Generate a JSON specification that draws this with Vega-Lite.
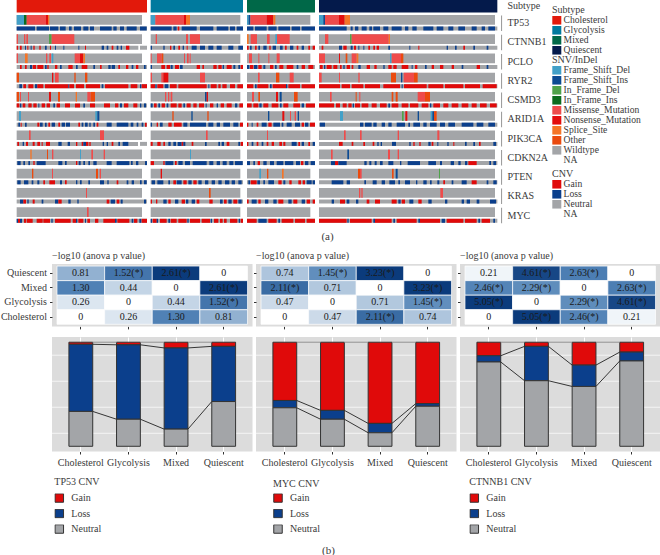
{"$schema":"https://vega.github.io/schema/vega-lite/v6.json","padding":0,"background":"white","bounds":"flush","columns":3,"spacing":{"row":10,"column":3},
"config":{"font":"Liberation Serif","view":{"stroke":null},"axis":{"labelFont":"Liberation Serif","labelFontSize":10,"labelColor":"#3a3a3a","tickColor":"#333333","tickSize":2.5,"domain":false,"title":null,"labelAngle":0},"legend":{"labelFont":"Liberation Serif","titleFont":"Liberation Serif","labelColor":"#3a3a3a","titleColor":"#3a3a3a","titleFontWeight":"normal","titleFontSize":10,"labelFontSize":10,"symbolType":"square","orient":"none"},"title":{"font":"Liberation Serif","fontSize":10,"fontWeight":"normal","color":"#3a3a3a","anchor":"start","frame":"group","offset":3}},
"resolve":{"scale":{"color":"independent"},"legend":{"color":"independent"}},
"datasets":{
"subtypes":[{"track":"Subtype","a":50,"b":441,"v":"Cholesterol"},{"track":"Subtype","a":452,"b":729,"v":"Glycolysis"},{"track":"Subtype","a":741,"b":945,"v":"Mixed"},{"track":"Subtype","a":957,"b":1492,"v":"Quiescent"}],
"genes":[{"gene":"TP53"},{"gene":"CTNNB1"},{"gene":"PCLO"},{"gene":"RYR2"},{"gene":"CSMD3"},{"gene":"ARID1A"},{"gene":"PIK3CA"},{"gene":"CDKN2A"},{"gene":"PTEN"},{"gene":"KRAS"},{"gene":"MYC"}],
"snv":[
{"gene":"TP53","a":50,"b":426,"v":"Wildtype"},{"gene":"TP53","a":452,"b":721,"v":"Wildtype"},{"gene":"TP53","a":741,"b":931,"v":"Wildtype"},{"gene":"TP53","a":957,"b":1485,"v":"Wildtype"},
{"gene":"CTNNB1","a":50,"b":426,"v":"Wildtype"},{"gene":"CTNNB1","a":452,"b":721,"v":"Wildtype"},{"gene":"CTNNB1","a":741,"b":931,"v":"Wildtype"},{"gene":"CTNNB1","a":957,"b":1485,"v":"Wildtype"},
{"gene":"PCLO","a":50,"b":426,"v":"Wildtype"},{"gene":"PCLO","a":452,"b":721,"v":"Wildtype"},{"gene":"PCLO","a":741,"b":931,"v":"Wildtype"},{"gene":"PCLO","a":957,"b":1485,"v":"Wildtype"},
{"gene":"RYR2","a":50,"b":426,"v":"Wildtype"},{"gene":"RYR2","a":452,"b":721,"v":"Wildtype"},{"gene":"RYR2","a":741,"b":931,"v":"Wildtype"},{"gene":"RYR2","a":957,"b":1485,"v":"Wildtype"},
{"gene":"CSMD3","a":50,"b":426,"v":"Wildtype"},{"gene":"CSMD3","a":452,"b":721,"v":"Wildtype"},{"gene":"CSMD3","a":741,"b":931,"v":"Wildtype"},{"gene":"CSMD3","a":957,"b":1485,"v":"Wildtype"},
{"gene":"ARID1A","a":50,"b":426,"v":"Wildtype"},{"gene":"ARID1A","a":452,"b":721,"v":"Wildtype"},{"gene":"ARID1A","a":741,"b":931,"v":"Wildtype"},{"gene":"ARID1A","a":957,"b":1485,"v":"Wildtype"},
{"gene":"PIK3CA","a":50,"b":426,"v":"Wildtype"},{"gene":"PIK3CA","a":452,"b":721,"v":"Wildtype"},{"gene":"PIK3CA","a":741,"b":931,"v":"Wildtype"},{"gene":"PIK3CA","a":957,"b":1485,"v":"Wildtype"},
{"gene":"CDKN2A","a":50,"b":426,"v":"Wildtype"},{"gene":"CDKN2A","a":452,"b":721,"v":"Wildtype"},{"gene":"CDKN2A","a":741,"b":931,"v":"Wildtype"},{"gene":"CDKN2A","a":957,"b":1485,"v":"Wildtype"},
{"gene":"PTEN","a":50,"b":426,"v":"Wildtype"},{"gene":"PTEN","a":452,"b":721,"v":"Wildtype"},{"gene":"PTEN","a":741,"b":931,"v":"Wildtype"},{"gene":"PTEN","a":957,"b":1485,"v":"Wildtype"},
{"gene":"KRAS","a":50,"b":426,"v":"Wildtype"},{"gene":"KRAS","a":452,"b":721,"v":"Wildtype"},{"gene":"KRAS","a":741,"b":931,"v":"Wildtype"},{"gene":"KRAS","a":957,"b":1485,"v":"Wildtype"},
{"gene":"MYC","a":50,"b":426,"v":"Wildtype"},{"gene":"MYC","a":452,"b":721,"v":"Wildtype"},{"gene":"MYC","a":741,"b":931,"v":"Wildtype"},{"gene":"MYC","a":957,"b":1485,"v":"Wildtype"},
{"gene":"TP53","a":50,"b":72,"v":"Frame_Shift_Del"},{"gene":"TP53","a":72,"b":80,"v":"In_Frame_Ins"},{"gene":"TP53","a":80,"b":138,"v":"Missense_Mutation"},{"gene":"TP53","a":138,"b":144,"v":"Nonsense_Mutation"},{"gene":"TP53","a":144,"b":148,"v":"Splice_Site"},{"gene":"TP53","a":452,"b":466,"v":"Frame_Shift_Del"},{"gene":"TP53","a":466,"b":552,"v":"Missense_Mutation"},{"gene":"TP53","a":552,"b":558,"v":"Nonsense_Mutation"},{"gene":"TP53","a":558,"b":570,"v":"Splice_Site"},{"gene":"TP53","a":741,"b":746,"v":"Frame_Shift_Del"},{"gene":"TP53","a":746,"b":751,"v":"Frame_Shift_Ins"},{"gene":"TP53","a":751,"b":800,"v":"Missense_Mutation"},{"gene":"TP53","a":800,"b":820,"v":"Nonsense_Mutation"},{"gene":"TP53","a":820,"b":826,"v":"Splice_Site"},{"gene":"TP53","a":957,"b":970,"v":"Frame_Shift_Del"},{"gene":"TP53","a":970,"b":975,"v":"Frame_Shift_Ins"},{"gene":"TP53","a":975,"b":1017,"v":"Missense_Mutation"},{"gene":"TP53","a":1017,"b":1034,"v":"Nonsense_Mutation"},{"gene":"TP53","a":1034,"b":1050,"v":"Splice_Site"},
{"gene":"CTNNB1","a":50,"b":54,"v":"Missense_Mutation"},{"gene":"CTNNB1","a":72,"b":76,"v":"Missense_Mutation"},{"gene":"CTNNB1","a":79,"b":84,"v":"Missense_Mutation"},{"gene":"CTNNB1","a":147,"b":155,"v":"In_Frame_Del"},{"gene":"CTNNB1","a":155,"b":223,"v":"Missense_Mutation"},{"gene":"CTNNB1","a":467,"b":471,"v":"Missense_Mutation"},{"gene":"CTNNB1","a":558,"b":564,"v":"Missense_Mutation"},{"gene":"CTNNB1","a":570,"b":600,"v":"Missense_Mutation"},{"gene":"CTNNB1","a":741,"b":746,"v":"Splice_Site"},{"gene":"CTNNB1","a":752,"b":771,"v":"Missense_Mutation"},{"gene":"CTNNB1","a":801,"b":809,"v":"Missense_Mutation"},{"gene":"CTNNB1","a":826,"b":831,"v":"Frame_Shift_Del"},{"gene":"CTNNB1","a":831,"b":869,"v":"Missense_Mutation"},{"gene":"CTNNB1","a":975,"b":985,"v":"Missense_Mutation"},{"gene":"CTNNB1","a":1050,"b":1055,"v":"In_Frame_Del"},{"gene":"CTNNB1","a":1055,"b":1166,"v":"Missense_Mutation"},{"gene":"CTNNB1","a":1166,"b":1170,"v":"Splice_Site"},
{"gene":"PCLO","a":50,"b":54,"v":"Missense_Mutation"},{"gene":"PCLO","a":75,"b":83,"v":"Splice_Site"},{"gene":"PCLO","a":138,"b":142,"v":"Missense_Mutation"},{"gene":"PCLO","a":148,"b":153,"v":"Missense_Mutation"},{"gene":"PCLO","a":155,"b":160,"v":"Frame_Shift_Del"},{"gene":"PCLO","a":224,"b":240,"v":"Missense_Mutation"},{"gene":"PCLO","a":240,"b":250,"v":"Nonsense_Mutation"},{"gene":"PCLO","a":250,"b":255,"v":"Splice_Site"},{"gene":"PCLO","a":452,"b":455,"v":"Missense_Mutation"},{"gene":"PCLO","a":471,"b":485,"v":"Missense_Mutation"},{"gene":"PCLO","a":485,"b":490,"v":"Other"},{"gene":"PCLO","a":552,"b":555,"v":"Missense_Mutation"},{"gene":"PCLO","a":561,"b":566,"v":"Missense_Mutation"},{"gene":"PCLO","a":569,"b":572,"v":"Missense_Mutation"},{"gene":"PCLO","a":747,"b":756,"v":"Missense_Mutation"},{"gene":"PCLO","a":775,"b":778,"v":"Missense_Mutation"},{"gene":"PCLO","a":805,"b":808,"v":"Missense_Mutation"},{"gene":"PCLO","a":830,"b":839,"v":"Missense_Mutation"},{"gene":"PCLO","a":957,"b":975,"v":"Missense_Mutation"},{"gene":"PCLO","a":1017,"b":1020,"v":"Nonsense_Mutation"},{"gene":"PCLO","a":1037,"b":1042,"v":"Other"},{"gene":"PCLO","a":1055,"b":1070,"v":"Missense_Mutation"},{"gene":"PCLO","a":1070,"b":1075,"v":"Splice_Site"},{"gene":"PCLO","a":1170,"b":1175,"v":"Frame_Shift_Del"},{"gene":"PCLO","a":1175,"b":1203,"v":"Missense_Mutation"},{"gene":"PCLO","a":1203,"b":1210,"v":"Other"},
{"gene":"RYR2","a":50,"b":57,"v":"Other"},{"gene":"RYR2","a":156,"b":160,"v":"Nonsense_Mutation"},{"gene":"RYR2","a":165,"b":176,"v":"Missense_Mutation"},{"gene":"RYR2","a":223,"b":227,"v":"Other"},{"gene":"RYR2","a":255,"b":262,"v":"Other"},{"gene":"RYR2","a":452,"b":456,"v":"Missense_Mutation"},{"gene":"RYR2","a":484,"b":490,"v":"Missense_Mutation"},{"gene":"RYR2","a":490,"b":505,"v":"Nonsense_Mutation"},{"gene":"RYR2","a":600,"b":615,"v":"Missense_Mutation"},{"gene":"RYR2","a":774,"b":779,"v":"Missense_Mutation"},{"gene":"RYR2","a":828,"b":838,"v":"Other"},{"gene":"RYR2","a":869,"b":881,"v":"Missense_Mutation"},{"gene":"RYR2","a":957,"b":965,"v":"Missense_Mutation"},{"gene":"RYR2","a":1017,"b":1020,"v":"Missense_Mutation"},{"gene":"RYR2","a":1075,"b":1079,"v":"Missense_Mutation"},{"gene":"RYR2","a":1173,"b":1188,"v":"Other"},{"gene":"RYR2","a":1203,"b":1207,"v":"Frame_Shift_Ins"},{"gene":"RYR2","a":1211,"b":1242,"v":"Missense_Mutation"},{"gene":"RYR2","a":1242,"b":1253,"v":"Other"},
{"gene":"CSMD3","a":50,"b":57,"v":"Other"},{"gene":"CSMD3","a":60,"b":63,"v":"Missense_Mutation"},{"gene":"CSMD3","a":84,"b":87,"v":"Missense_Mutation"},{"gene":"CSMD3","a":147,"b":153,"v":"Nonsense_Mutation"},{"gene":"CSMD3","a":174,"b":180,"v":"Other"},{"gene":"CSMD3","a":227,"b":231,"v":"Splice_Site"},{"gene":"CSMD3","a":262,"b":272,"v":"Missense_Mutation"},{"gene":"CSMD3","a":272,"b":285,"v":"Other"},{"gene":"CSMD3","a":495,"b":499,"v":"Missense_Mutation"},{"gene":"CSMD3","a":504,"b":508,"v":"Missense_Mutation"},{"gene":"CSMD3","a":512,"b":517,"v":"Missense_Mutation"},{"gene":"CSMD3","a":615,"b":620,"v":"Frame_Shift_Ins"},{"gene":"CSMD3","a":620,"b":624,"v":"Nonsense_Mutation"},{"gene":"CSMD3","a":756,"b":762,"v":"Missense_Mutation"},{"gene":"CSMD3","a":775,"b":780,"v":"Other"},{"gene":"CSMD3","a":828,"b":834,"v":"Nonsense_Mutation"},{"gene":"CSMD3","a":839,"b":845,"v":"Frame_Shift_Ins"},{"gene":"CSMD3","a":882,"b":893,"v":"Other"},{"gene":"CSMD3","a":990,"b":995,"v":"Missense_Mutation"},{"gene":"CSMD3","a":1067,"b":1070,"v":"Other"},{"gene":"CSMD3","a":1078,"b":1081,"v":"Missense_Mutation"},{"gene":"CSMD3","a":1175,"b":1180,"v":"Other"},{"gene":"CSMD3","a":1187,"b":1193,"v":"Other"},{"gene":"CSMD3","a":1253,"b":1275,"v":"Missense_Mutation"},{"gene":"CSMD3","a":1275,"b":1290,"v":"Other"},
{"gene":"ARID1A","a":57,"b":63,"v":"Frame_Shift_Del"},{"gene":"ARID1A","a":286,"b":292,"v":"Frame_Shift_Del"},{"gene":"ARID1A","a":292,"b":298,"v":"Frame_Shift_Ins"},{"gene":"ARID1A","a":517,"b":521,"v":"Other"},{"gene":"ARID1A","a":574,"b":578,"v":"Frame_Shift_Ins"},{"gene":"ARID1A","a":622,"b":626,"v":"Other"},{"gene":"ARID1A","a":804,"b":808,"v":"Frame_Shift_Ins"},{"gene":"ARID1A","a":847,"b":853,"v":"Nonsense_Mutation"},{"gene":"ARID1A","a":870,"b":873,"v":"Missense_Mutation"},{"gene":"ARID1A","a":884,"b":888,"v":"Missense_Mutation"},{"gene":"ARID1A","a":893,"b":897,"v":"Frame_Shift_Ins"},{"gene":"ARID1A","a":1020,"b":1029,"v":"Frame_Shift_Del"},{"gene":"ARID1A","a":1206,"b":1211,"v":"In_Frame_Del"},{"gene":"ARID1A","a":1216,"b":1222,"v":"Nonsense_Mutation"},{"gene":"ARID1A","a":1253,"b":1257,"v":"Frame_Shift_Ins"},{"gene":"ARID1A","a":1292,"b":1297,"v":"Frame_Shift_Del"},{"gene":"ARID1A","a":1297,"b":1302,"v":"Frame_Shift_Ins"},{"gene":"ARID1A","a":1302,"b":1310,"v":"Other"},
{"gene":"PIK3CA","a":87,"b":92,"v":"Missense_Mutation"},{"gene":"PIK3CA","a":300,"b":312,"v":"Missense_Mutation"},{"gene":"PIK3CA","a":618,"b":623,"v":"Missense_Mutation"},{"gene":"PIK3CA","a":801,"b":804,"v":"Missense_Mutation"},{"gene":"PIK3CA","a":1032,"b":1037,"v":"Missense_Mutation"},{"gene":"PIK3CA","a":1080,"b":1085,"v":"Missense_Mutation"},{"gene":"PIK3CA","a":1193,"b":1197,"v":"Missense_Mutation"},{"gene":"PIK3CA","a":1312,"b":1318,"v":"Missense_Mutation"},
{"gene":"CDKN2A","a":91,"b":95,"v":"Splice_Site"},{"gene":"CDKN2A","a":141,"b":144,"v":"Other"},{"gene":"CDKN2A","a":156,"b":160,"v":"Missense_Mutation"},{"gene":"CDKN2A","a":240,"b":243,"v":"Frame_Shift_Del"},{"gene":"CDKN2A","a":274,"b":279,"v":"Missense_Mutation"},{"gene":"CDKN2A","a":311,"b":315,"v":"Missense_Mutation"},{"gene":"CDKN2A","a":570,"b":573,"v":"Frame_Shift_Del"},{"gene":"CDKN2A","a":993,"b":998,"v":"Missense_Mutation"},{"gene":"CDKN2A","a":1042,"b":1047,"v":"Frame_Shift_Ins"},{"gene":"CDKN2A","a":1164,"b":1170,"v":"Missense_Mutation"},{"gene":"CDKN2A","a":1193,"b":1197,"v":"Missense_Mutation"},
{"gene":"PTEN","a":96,"b":100,"v":"Other"},{"gene":"PTEN","a":156,"b":159,"v":"Missense_Mutation"},{"gene":"PTEN","a":288,"b":294,"v":"Other"},{"gene":"PTEN","a":299,"b":303,"v":"Missense_Mutation"},{"gene":"PTEN","a":482,"b":486,"v":"Nonsense_Mutation"},{"gene":"PTEN","a":778,"b":783,"v":"Frame_Shift_Del"},{"gene":"PTEN","a":801,"b":805,"v":"Other"},{"gene":"PTEN","a":846,"b":851,"v":"Splice_Site"},{"gene":"PTEN","a":1074,"b":1080,"v":"Other"},{"gene":"PTEN","a":1080,"b":1085,"v":"Missense_Mutation"},{"gene":"PTEN","a":1176,"b":1181,"v":"Other"},{"gene":"PTEN","a":1187,"b":1193,"v":"Frame_Shift_Ins"},{"gene":"PTEN","a":1317,"b":1320,"v":"In_Frame_Del"},
{"gene":"KRAS","a":258,"b":261,"v":"Missense_Mutation"},{"gene":"KRAS","a":627,"b":632,"v":"Other"},{"gene":"KRAS","a":1077,"b":1081,"v":"Missense_Mutation"},{"gene":"KRAS","a":1084,"b":1088,"v":"Missense_Mutation"},{"gene":"KRAS","a":1321,"b":1329,"v":"Missense_Mutation"},
{"gene":"MYC","a":261,"b":266,"v":"Missense_Mutation"}],
"cnv":[
{"gene":"TP53","a":50,"b":441,"v":"Neutral"},{"gene":"TP53","a":452,"b":729,"v":"Neutral"},{"gene":"TP53","a":741,"b":945,"v":"Neutral"},{"gene":"TP53","a":957,"b":1492,"v":"Neutral"},
{"gene":"CTNNB1","a":50,"b":415,"v":"Neutral"},{"gene":"CTNNB1","a":420,"b":441,"v":"Neutral"},{"gene":"CTNNB1","a":452,"b":729,"v":"Neutral"},{"gene":"CTNNB1","a":741,"b":945,"v":"Neutral"},{"gene":"CTNNB1","a":957,"b":1492,"v":"Neutral"},
{"gene":"PCLO","a":50,"b":441,"v":"Neutral"},{"gene":"PCLO","a":452,"b":729,"v":"Neutral"},{"gene":"PCLO","a":741,"b":945,"v":"Neutral"},{"gene":"PCLO","a":957,"b":1492,"v":"Neutral"},
{"gene":"RYR2","a":50,"b":441,"v":"Neutral"},{"gene":"RYR2","a":452,"b":729,"v":"Neutral"},{"gene":"RYR2","a":741,"b":945,"v":"Neutral"},{"gene":"RYR2","a":957,"b":1492,"v":"Neutral"},
{"gene":"CSMD3","a":50,"b":441,"v":"Neutral"},{"gene":"CSMD3","a":452,"b":729,"v":"Neutral"},{"gene":"CSMD3","a":741,"b":945,"v":"Neutral"},{"gene":"CSMD3","a":957,"b":1492,"v":"Neutral"},
{"gene":"ARID1A","a":50,"b":441,"v":"Neutral"},{"gene":"ARID1A","a":452,"b":729,"v":"Neutral"},{"gene":"ARID1A","a":741,"b":945,"v":"Neutral"},{"gene":"ARID1A","a":957,"b":1492,"v":"Neutral"},
{"gene":"PIK3CA","a":50,"b":414,"v":"Neutral"},{"gene":"PIK3CA","a":420,"b":441,"v":"Neutral"},{"gene":"PIK3CA","a":452,"b":729,"v":"Neutral"},{"gene":"PIK3CA","a":741,"b":945,"v":"Neutral"},{"gene":"PIK3CA","a":957,"b":1492,"v":"Neutral"},
{"gene":"CDKN2A","a":50,"b":441,"v":"Neutral"},{"gene":"CDKN2A","a":452,"b":729,"v":"Neutral"},{"gene":"CDKN2A","a":741,"b":945,"v":"Neutral"},{"gene":"CDKN2A","a":957,"b":1492,"v":"Neutral"},
{"gene":"PTEN","a":50,"b":441,"v":"Neutral"},{"gene":"PTEN","a":452,"b":729,"v":"Neutral"},{"gene":"PTEN","a":741,"b":945,"v":"Neutral"},{"gene":"PTEN","a":957,"b":1492,"v":"Neutral"},
{"gene":"KRAS","a":50,"b":441,"v":"Neutral"},{"gene":"KRAS","a":452,"b":729,"v":"Neutral"},{"gene":"KRAS","a":741,"b":945,"v":"Neutral"},{"gene":"KRAS","a":957,"b":1492,"v":"Neutral"},
{"gene":"MYC","a":50,"b":441,"v":"Neutral"},{"gene":"MYC","a":452,"b":729,"v":"Neutral"},{"gene":"MYC","a":741,"b":945,"v":"Neutral"},{"gene":"MYC","a":957,"b":1492,"v":"Neutral"},
{"gene":"TP53","a":50,"b":105,"v":"Loss"},{"gene":"TP53","a":110,"b":147,"v":"Loss"},{"gene":"TP53","a":150,"b":175,"v":"Loss"},{"gene":"TP53","a":180,"b":197,"v":"Loss"},{"gene":"TP53","a":207,"b":215,"v":"Loss"},{"gene":"TP53","a":222,"b":243,"v":"Loss"},{"gene":"TP53","a":250,"b":265,"v":"Loss"},{"gene":"TP53","a":270,"b":282,"v":"Loss"},{"gene":"TP53","a":300,"b":335,"v":"Loss"},{"gene":"TP53","a":340,"b":350,"v":"Loss"},{"gene":"TP53","a":360,"b":372,"v":"Loss"},{"gene":"TP53","a":380,"b":410,"v":"Loss"},{"gene":"TP53","a":420,"b":440,"v":"Loss"},{"gene":"TP53","a":452,"b":515,"v":"Loss"},{"gene":"TP53","a":520,"b":530,"v":"Loss"},{"gene":"TP53","a":533,"b":538,"v":"Gain"},{"gene":"TP53","a":545,"b":590,"v":"Loss"},{"gene":"TP53","a":600,"b":640,"v":"Loss"},{"gene":"TP53","a":650,"b":685,"v":"Loss"},{"gene":"TP53","a":690,"b":705,"v":"Loss"},{"gene":"TP53","a":710,"b":729,"v":"Loss"},{"gene":"TP53","a":741,"b":760,"v":"Loss"},{"gene":"TP53","a":765,"b":800,"v":"Loss"},{"gene":"TP53","a":805,"b":830,"v":"Loss"},{"gene":"TP53","a":835,"b":870,"v":"Loss"},{"gene":"TP53","a":875,"b":900,"v":"Loss"},{"gene":"TP53","a":905,"b":945,"v":"Loss"},{"gene":"TP53","a":957,"b":1040,"v":"Loss"},{"gene":"TP53","a":1052,"b":1058,"v":"Loss"},{"gene":"TP53","a":1065,"b":1075,"v":"Loss"},{"gene":"TP53","a":1085,"b":1100,"v":"Loss"},{"gene":"TP53","a":1108,"b":1116,"v":"Loss"},{"gene":"TP53","a":1120,"b":1140,"v":"Loss"},{"gene":"TP53","a":1150,"b":1165,"v":"Loss"},{"gene":"TP53","a":1175,"b":1205,"v":"Loss"},{"gene":"TP53","a":1215,"b":1225,"v":"Loss"},{"gene":"TP53","a":1237,"b":1250,"v":"Loss"},{"gene":"TP53","a":1270,"b":1300,"v":"Loss"},{"gene":"TP53","a":1310,"b":1330,"v":"Loss"},{"gene":"TP53","a":1345,"b":1360,"v":"Loss"},{"gene":"TP53","a":1375,"b":1395,"v":"Loss"},{"gene":"TP53","a":1415,"b":1430,"v":"Loss"},{"gene":"TP53","a":1445,"b":1455,"v":"Loss"},{"gene":"TP53","a":1465,"b":1485,"v":"Loss"},
{"gene":"CTNNB1","a":50,"b":54,"v":"Gain"},{"gene":"CTNNB1","a":60,"b":65,"v":"Gain"},{"gene":"CTNNB1","a":75,"b":78,"v":"Loss"},{"gene":"CTNNB1","a":82,"b":85,"v":"Gain"},{"gene":"CTNNB1","a":92,"b":95,"v":"Loss"},{"gene":"CTNNB1","a":100,"b":104,"v":"Gain"},{"gene":"CTNNB1","a":118,"b":122,"v":"Gain"},{"gene":"CTNNB1","a":135,"b":140,"v":"Loss"},{"gene":"CTNNB1","a":150,"b":153,"v":"Gain"},{"gene":"CTNNB1","a":165,"b":168,"v":"Loss"},{"gene":"CTNNB1","a":190,"b":193,"v":"Loss"},{"gene":"CTNNB1","a":235,"b":238,"v":"Loss"},{"gene":"CTNNB1","a":255,"b":258,"v":"Gain"},{"gene":"CTNNB1","a":305,"b":312,"v":"Loss"},{"gene":"CTNNB1","a":320,"b":325,"v":"Loss"},{"gene":"CTNNB1","a":335,"b":340,"v":"Gain"},{"gene":"CTNNB1","a":350,"b":355,"v":"Loss"},{"gene":"CTNNB1","a":362,"b":366,"v":"Loss"},{"gene":"CTNNB1","a":378,"b":388,"v":"Gain"},{"gene":"CTNNB1","a":452,"b":456,"v":"Loss"},{"gene":"CTNNB1","a":490,"b":494,"v":"Loss"},{"gene":"CTNNB1","a":510,"b":514,"v":"Gain"},{"gene":"CTNNB1","a":520,"b":525,"v":"Loss"},{"gene":"CTNNB1","a":535,"b":540,"v":"Gain"},{"gene":"CTNNB1","a":548,"b":552,"v":"Loss"},{"gene":"CTNNB1","a":560,"b":563,"v":"Gain"},{"gene":"CTNNB1","a":575,"b":590,"v":"Loss"},{"gene":"CTNNB1","a":600,"b":615,"v":"Loss"},{"gene":"CTNNB1","a":625,"b":640,"v":"Loss"},{"gene":"CTNNB1","a":650,"b":665,"v":"Loss"},{"gene":"CTNNB1","a":685,"b":700,"v":"Loss"},{"gene":"CTNNB1","a":715,"b":729,"v":"Loss"},{"gene":"CTNNB1","a":741,"b":746,"v":"Gain"},{"gene":"CTNNB1","a":750,"b":755,"v":"Loss"},{"gene":"CTNNB1","a":765,"b":770,"v":"Gain"},{"gene":"CTNNB1","a":775,"b":780,"v":"Loss"},{"gene":"CTNNB1","a":790,"b":800,"v":"Loss"},{"gene":"CTNNB1","a":808,"b":812,"v":"Gain"},{"gene":"CTNNB1","a":818,"b":828,"v":"Loss"},{"gene":"CTNNB1","a":840,"b":848,"v":"Loss"},{"gene":"CTNNB1","a":855,"b":860,"v":"Gain"},{"gene":"CTNNB1","a":870,"b":880,"v":"Loss"},{"gene":"CTNNB1","a":890,"b":895,"v":"Gain"},{"gene":"CTNNB1","a":905,"b":912,"v":"Loss"},{"gene":"CTNNB1","a":925,"b":930,"v":"Gain"},{"gene":"CTNNB1","a":938,"b":945,"v":"Gain"},{"gene":"CTNNB1","a":965,"b":970,"v":"Gain"},{"gene":"CTNNB1","a":1017,"b":1026,"v":"Loss"},{"gene":"CTNNB1","a":1030,"b":1040,"v":"Gain"},{"gene":"CTNNB1","a":1052,"b":1058,"v":"Loss"},{"gene":"CTNNB1","a":1062,"b":1068,"v":"Gain"},{"gene":"CTNNB1","a":1075,"b":1078,"v":"Loss"},{"gene":"CTNNB1","a":1090,"b":1093,"v":"Loss"},{"gene":"CTNNB1","a":1105,"b":1110,"v":"Gain"},{"gene":"CTNNB1","a":1120,"b":1125,"v":"Gain"},{"gene":"CTNNB1","a":1130,"b":1137,"v":"Gain"},{"gene":"CTNNB1","a":1165,"b":1170,"v":"Loss"},{"gene":"CTNNB1","a":1228,"b":1231,"v":"Loss"},{"gene":"CTNNB1","a":1255,"b":1258,"v":"Gain"},{"gene":"CTNNB1","a":1340,"b":1344,"v":"Loss"},{"gene":"CTNNB1","a":1365,"b":1370,"v":"Loss"},{"gene":"CTNNB1","a":1390,"b":1395,"v":"Gain"},{"gene":"CTNNB1","a":1420,"b":1425,"v":"Loss"},{"gene":"CTNNB1","a":1460,"b":1465,"v":"Loss"},
{"gene":"PCLO","a":60,"b":65,"v":"Gain"},{"gene":"PCLO","a":75,"b":80,"v":"Gain"},{"gene":"PCLO","a":90,"b":96,"v":"Loss"},{"gene":"PCLO","a":98,"b":108,"v":"Gain"},{"gene":"PCLO","a":112,"b":130,"v":"Gain"},{"gene":"PCLO","a":135,"b":140,"v":"Loss"},{"gene":"PCLO","a":142,"b":146,"v":"Gain"},{"gene":"PCLO","a":165,"b":172,"v":"Gain"},{"gene":"PCLO","a":180,"b":185,"v":"Loss"},{"gene":"PCLO","a":205,"b":218,"v":"Gain"},{"gene":"PCLO","a":228,"b":233,"v":"Loss"},{"gene":"PCLO","a":245,"b":262,"v":"Gain"},{"gene":"PCLO","a":280,"b":285,"v":"Loss"},{"gene":"PCLO","a":300,"b":305,"v":"Gain"},{"gene":"PCLO","a":325,"b":332,"v":"Loss"},{"gene":"PCLO","a":335,"b":345,"v":"Loss"},{"gene":"PCLO","a":355,"b":360,"v":"Gain"},{"gene":"PCLO","a":378,"b":385,"v":"Gain"},{"gene":"PCLO","a":395,"b":400,"v":"Loss"},{"gene":"PCLO","a":408,"b":415,"v":"Gain"},{"gene":"PCLO","a":432,"b":437,"v":"Loss"},{"gene":"PCLO","a":452,"b":456,"v":"Loss"},{"gene":"PCLO","a":484,"b":495,"v":"Gain"},{"gene":"PCLO","a":500,"b":510,"v":"Gain"},{"gene":"PCLO","a":512,"b":518,"v":"Loss"},{"gene":"PCLO","a":525,"b":537,"v":"Gain"},{"gene":"PCLO","a":540,"b":548,"v":"Loss"},{"gene":"PCLO","a":590,"b":600,"v":"Gain"},{"gene":"PCLO","a":607,"b":612,"v":"Gain"},{"gene":"PCLO","a":640,"b":650,"v":"Gain"},{"gene":"PCLO","a":655,"b":665,"v":"Gain"},{"gene":"PCLO","a":668,"b":672,"v":"Loss"},{"gene":"PCLO","a":680,"b":695,"v":"Gain"},{"gene":"PCLO","a":700,"b":706,"v":"Loss"},{"gene":"PCLO","a":715,"b":720,"v":"Loss"},{"gene":"PCLO","a":722,"b":729,"v":"Gain"},{"gene":"PCLO","a":741,"b":748,"v":"Loss"},{"gene":"PCLO","a":750,"b":760,"v":"Gain"},{"gene":"PCLO","a":762,"b":772,"v":"Loss"},{"gene":"PCLO","a":775,"b":785,"v":"Gain"},{"gene":"PCLO","a":790,"b":796,"v":"Loss"},{"gene":"PCLO","a":810,"b":820,"v":"Gain"},{"gene":"PCLO","a":825,"b":830,"v":"Loss"},{"gene":"PCLO","a":838,"b":850,"v":"Gain"},{"gene":"PCLO","a":860,"b":880,"v":"Gain"},{"gene":"PCLO","a":890,"b":895,"v":"Loss"},{"gene":"PCLO","a":905,"b":915,"v":"Gain"},{"gene":"PCLO","a":925,"b":940,"v":"Gain"},{"gene":"PCLO","a":960,"b":968,"v":"Gain"},{"gene":"PCLO","a":972,"b":976,"v":"Loss"},{"gene":"PCLO","a":980,"b":995,"v":"Gain"},{"gene":"PCLO","a":1000,"b":1012,"v":"Gain"},{"gene":"PCLO","a":1020,"b":1025,"v":"Gain"},{"gene":"PCLO","a":1030,"b":1034,"v":"Loss"},{"gene":"PCLO","a":1040,"b":1050,"v":"Gain"},{"gene":"PCLO","a":1055,"b":1060,"v":"Gain"},{"gene":"PCLO","a":1075,"b":1082,"v":"Loss"},{"gene":"PCLO","a":1100,"b":1110,"v":"Gain"},{"gene":"PCLO","a":1123,"b":1130,"v":"Gain"},{"gene":"PCLO","a":1150,"b":1154,"v":"Loss"},{"gene":"PCLO","a":1165,"b":1175,"v":"Gain"},{"gene":"PCLO","a":1180,"b":1190,"v":"Gain"},{"gene":"PCLO","a":1205,"b":1225,"v":"Gain"},{"gene":"PCLO","a":1235,"b":1238,"v":"Loss"},{"gene":"PCLO","a":1245,"b":1252,"v":"Gain"},{"gene":"PCLO","a":1275,"b":1280,"v":"Loss"},{"gene":"PCLO","a":1295,"b":1302,"v":"Gain"},{"gene":"PCLO","a":1320,"b":1330,"v":"Gain"},{"gene":"PCLO","a":1355,"b":1362,"v":"Gain"},{"gene":"PCLO","a":1385,"b":1390,"v":"Loss"},{"gene":"PCLO","a":1430,"b":1440,"v":"Gain"},{"gene":"PCLO","a":1460,"b":1465,"v":"Loss"},
{"gene":"RYR2","a":58,"b":66,"v":"Loss"},{"gene":"RYR2","a":70,"b":78,"v":"Gain"},{"gene":"RYR2","a":85,"b":100,"v":"Gain"},{"gene":"RYR2","a":105,"b":112,"v":"Loss"},{"gene":"RYR2","a":112,"b":130,"v":"Gain"},{"gene":"RYR2","a":135,"b":205,"v":"Gain"},{"gene":"RYR2","a":205,"b":208,"v":"Loss"},{"gene":"RYR2","a":208,"b":222,"v":"Gain"},{"gene":"RYR2","a":228,"b":252,"v":"Gain"},{"gene":"RYR2","a":258,"b":300,"v":"Gain"},{"gene":"RYR2","a":305,"b":310,"v":"Loss"},{"gene":"RYR2","a":315,"b":385,"v":"Gain"},{"gene":"RYR2","a":392,"b":412,"v":"Gain"},{"gene":"RYR2","a":420,"b":424,"v":"Loss"},{"gene":"RYR2","a":425,"b":441,"v":"Gain"},{"gene":"RYR2","a":452,"b":465,"v":"Gain"},{"gene":"RYR2","a":466,"b":470,"v":"Loss"},{"gene":"RYR2","a":472,"b":490,"v":"Gain"},{"gene":"RYR2","a":494,"b":505,"v":"Loss"},{"gene":"RYR2","a":510,"b":530,"v":"Gain"},{"gene":"RYR2","a":535,"b":620,"v":"Gain"},{"gene":"RYR2","a":625,"b":628,"v":"Loss"},{"gene":"RYR2","a":632,"b":650,"v":"Gain"},{"gene":"RYR2","a":655,"b":662,"v":"Gain"},{"gene":"RYR2","a":667,"b":680,"v":"Gain"},{"gene":"RYR2","a":690,"b":705,"v":"Gain"},{"gene":"RYR2","a":712,"b":729,"v":"Gain"},{"gene":"RYR2","a":741,"b":760,"v":"Gain"},{"gene":"RYR2","a":765,"b":770,"v":"Loss"},{"gene":"RYR2","a":772,"b":805,"v":"Gain"},{"gene":"RYR2","a":810,"b":815,"v":"Loss"},{"gene":"RYR2","a":818,"b":858,"v":"Gain"},{"gene":"RYR2","a":858,"b":862,"v":"Loss"},{"gene":"RYR2","a":865,"b":900,"v":"Gain"},{"gene":"RYR2","a":905,"b":945,"v":"Gain"},{"gene":"RYR2","a":957,"b":1020,"v":"Gain"},{"gene":"RYR2","a":1025,"b":1050,"v":"Gain"},{"gene":"RYR2","a":1055,"b":1090,"v":"Gain"},{"gene":"RYR2","a":1095,"b":1140,"v":"Gain"},{"gene":"RYR2","a":1150,"b":1200,"v":"Gain"},{"gene":"RYR2","a":1205,"b":1208,"v":"Loss"},{"gene":"RYR2","a":1212,"b":1280,"v":"Gain"},{"gene":"RYR2","a":1285,"b":1330,"v":"Gain"},{"gene":"RYR2","a":1335,"b":1390,"v":"Gain"},{"gene":"RYR2","a":1395,"b":1440,"v":"Gain"},{"gene":"RYR2","a":1448,"b":1490,"v":"Gain"},
{"gene":"CSMD3","a":50,"b":58,"v":"Gain"},{"gene":"CSMD3","a":60,"b":64,"v":"Loss"},{"gene":"CSMD3","a":68,"b":76,"v":"Gain"},{"gene":"CSMD3","a":85,"b":95,"v":"Gain"},{"gene":"CSMD3","a":100,"b":110,"v":"Gain"},{"gene":"CSMD3","a":115,"b":118,"v":"Loss"},{"gene":"CSMD3","a":125,"b":135,"v":"Gain"},{"gene":"CSMD3","a":140,"b":150,"v":"Gain"},{"gene":"CSMD3","a":160,"b":165,"v":"Loss"},{"gene":"CSMD3","a":170,"b":180,"v":"Gain"},{"gene":"CSMD3","a":195,"b":210,"v":"Gain"},{"gene":"CSMD3","a":225,"b":240,"v":"Gain"},{"gene":"CSMD3","a":250,"b":255,"v":"Loss"},{"gene":"CSMD3","a":270,"b":285,"v":"Gain"},{"gene":"CSMD3","a":312,"b":330,"v":"Gain"},{"gene":"CSMD3","a":345,"b":355,"v":"Gain"},{"gene":"CSMD3","a":360,"b":366,"v":"Loss"},{"gene":"CSMD3","a":372,"b":385,"v":"Gain"},{"gene":"CSMD3","a":400,"b":412,"v":"Gain"},{"gene":"CSMD3","a":420,"b":424,"v":"Loss"},{"gene":"CSMD3","a":432,"b":438,"v":"Loss"},{"gene":"CSMD3","a":452,"b":458,"v":"Loss"},{"gene":"CSMD3","a":462,"b":470,"v":"Gain"},{"gene":"CSMD3","a":475,"b":480,"v":"Loss"},{"gene":"CSMD3","a":485,"b":495,"v":"Gain"},{"gene":"CSMD3","a":500,"b":505,"v":"Loss"},{"gene":"CSMD3","a":512,"b":530,"v":"Gain"},{"gene":"CSMD3","a":535,"b":545,"v":"Gain"},{"gene":"CSMD3","a":550,"b":555,"v":"Loss"},{"gene":"CSMD3","a":560,"b":572,"v":"Gain"},{"gene":"CSMD3","a":580,"b":590,"v":"Gain"},{"gene":"CSMD3","a":597,"b":612,"v":"Gain"},{"gene":"CSMD3","a":617,"b":620,"v":"Loss"},{"gene":"CSMD3","a":630,"b":640,"v":"Gain"},{"gene":"CSMD3","a":650,"b":654,"v":"Loss"},{"gene":"CSMD3","a":662,"b":672,"v":"Gain"},{"gene":"CSMD3","a":680,"b":695,"v":"Gain"},{"gene":"CSMD3","a":705,"b":712,"v":"Loss"},{"gene":"CSMD3","a":718,"b":729,"v":"Gain"},{"gene":"CSMD3","a":741,"b":755,"v":"Gain"},{"gene":"CSMD3","a":760,"b":775,"v":"Gain"},{"gene":"CSMD3","a":778,"b":785,"v":"Loss"},{"gene":"CSMD3","a":790,"b":805,"v":"Gain"},{"gene":"CSMD3","a":815,"b":835,"v":"Gain"},{"gene":"CSMD3","a":840,"b":845,"v":"Loss"},{"gene":"CSMD3","a":850,"b":865,"v":"Gain"},{"gene":"CSMD3","a":880,"b":900,"v":"Gain"},{"gene":"CSMD3","a":905,"b":912,"v":"Loss"},{"gene":"CSMD3","a":918,"b":945,"v":"Gain"},{"gene":"CSMD3","a":957,"b":1002,"v":"Gain"},{"gene":"CSMD3","a":1008,"b":1020,"v":"Gain"},{"gene":"CSMD3","a":1028,"b":1040,"v":"Gain"},{"gene":"CSMD3","a":1045,"b":1055,"v":"Gain"},{"gene":"CSMD3","a":1058,"b":1062,"v":"Loss"},{"gene":"CSMD3","a":1065,"b":1080,"v":"Gain"},{"gene":"CSMD3","a":1085,"b":1105,"v":"Gain"},{"gene":"CSMD3","a":1115,"b":1130,"v":"Gain"},{"gene":"CSMD3","a":1140,"b":1160,"v":"Gain"},{"gene":"CSMD3","a":1165,"b":1170,"v":"Loss"},{"gene":"CSMD3","a":1175,"b":1195,"v":"Gain"},{"gene":"CSMD3","a":1205,"b":1225,"v":"Gain"},{"gene":"CSMD3","a":1230,"b":1255,"v":"Gain"},{"gene":"CSMD3","a":1265,"b":1285,"v":"Gain"},{"gene":"CSMD3","a":1290,"b":1294,"v":"Loss"},{"gene":"CSMD3","a":1300,"b":1320,"v":"Gain"},{"gene":"CSMD3","a":1330,"b":1345,"v":"Gain"},{"gene":"CSMD3","a":1355,"b":1375,"v":"Gain"},{"gene":"CSMD3","a":1385,"b":1405,"v":"Gain"},{"gene":"CSMD3","a":1415,"b":1430,"v":"Gain"},{"gene":"CSMD3","a":1440,"b":1460,"v":"Gain"},{"gene":"CSMD3","a":1470,"b":1490,"v":"Gain"},
{"gene":"ARID1A","a":55,"b":60,"v":"Loss"},{"gene":"ARID1A","a":62,"b":65,"v":"Gain"},{"gene":"ARID1A","a":75,"b":80,"v":"Loss"},{"gene":"ARID1A","a":112,"b":118,"v":"Gain"},{"gene":"ARID1A","a":120,"b":128,"v":"Loss"},{"gene":"ARID1A","a":135,"b":140,"v":"Loss"},{"gene":"ARID1A","a":145,"b":150,"v":"Gain"},{"gene":"ARID1A","a":155,"b":165,"v":"Loss"},{"gene":"ARID1A","a":175,"b":180,"v":"Gain"},{"gene":"ARID1A","a":185,"b":195,"v":"Loss"},{"gene":"ARID1A","a":198,"b":210,"v":"Loss"},{"gene":"ARID1A","a":235,"b":240,"v":"Gain"},{"gene":"ARID1A","a":245,"b":250,"v":"Loss"},{"gene":"ARID1A","a":255,"b":263,"v":"Loss"},{"gene":"ARID1A","a":268,"b":272,"v":"Loss"},{"gene":"ARID1A","a":280,"b":285,"v":"Loss"},{"gene":"ARID1A","a":290,"b":295,"v":"Gain"},{"gene":"ARID1A","a":320,"b":335,"v":"Loss"},{"gene":"ARID1A","a":350,"b":385,"v":"Loss"},{"gene":"ARID1A","a":392,"b":400,"v":"Loss"},{"gene":"ARID1A","a":410,"b":415,"v":"Loss"},{"gene":"ARID1A","a":425,"b":430,"v":"Loss"},{"gene":"ARID1A","a":435,"b":440,"v":"Gain"},{"gene":"ARID1A","a":452,"b":456,"v":"Loss"},{"gene":"ARID1A","a":470,"b":474,"v":"Gain"},{"gene":"ARID1A","a":480,"b":488,"v":"Loss"},{"gene":"ARID1A","a":505,"b":515,"v":"Gain"},{"gene":"ARID1A","a":522,"b":545,"v":"Gain"},{"gene":"ARID1A","a":550,"b":562,"v":"Loss"},{"gene":"ARID1A","a":570,"b":618,"v":"Loss"},{"gene":"ARID1A","a":625,"b":640,"v":"Loss"},{"gene":"ARID1A","a":650,"b":660,"v":"Loss"},{"gene":"ARID1A","a":670,"b":690,"v":"Loss"},{"gene":"ARID1A","a":700,"b":715,"v":"Loss"},{"gene":"ARID1A","a":720,"b":729,"v":"Gain"},{"gene":"ARID1A","a":741,"b":745,"v":"Gain"},{"gene":"ARID1A","a":755,"b":758,"v":"Loss"},{"gene":"ARID1A","a":770,"b":775,"v":"Gain"},{"gene":"ARID1A","a":785,"b":800,"v":"Loss"},{"gene":"ARID1A","a":805,"b":815,"v":"Gain"},{"gene":"ARID1A","a":820,"b":840,"v":"Loss"},{"gene":"ARID1A","a":845,"b":850,"v":"Loss"},{"gene":"ARID1A","a":860,"b":875,"v":"Loss"},{"gene":"ARID1A","a":885,"b":900,"v":"Loss"},{"gene":"ARID1A","a":905,"b":912,"v":"Gain"},{"gene":"ARID1A","a":915,"b":925,"v":"Loss"},{"gene":"ARID1A","a":930,"b":945,"v":"Gain"},{"gene":"ARID1A","a":960,"b":975,"v":"Loss"},{"gene":"ARID1A","a":1080,"b":1090,"v":"Loss"},{"gene":"ARID1A","a":1095,"b":1115,"v":"Loss"},{"gene":"ARID1A","a":1120,"b":1130,"v":"Loss"},{"gene":"ARID1A","a":1145,"b":1155,"v":"Loss"},{"gene":"ARID1A","a":1165,"b":1175,"v":"Loss"},{"gene":"ARID1A","a":1190,"b":1215,"v":"Loss"},{"gene":"ARID1A","a":1225,"b":1230,"v":"Loss"},{"gene":"ARID1A","a":1240,"b":1260,"v":"Loss"},{"gene":"ARID1A","a":1270,"b":1280,"v":"Loss"},{"gene":"ARID1A","a":1290,"b":1310,"v":"Loss"},{"gene":"ARID1A","a":1320,"b":1335,"v":"Loss"},{"gene":"ARID1A","a":1345,"b":1365,"v":"Loss"},{"gene":"ARID1A","a":1385,"b":1420,"v":"Loss"},{"gene":"ARID1A","a":1430,"b":1450,"v":"Loss"},{"gene":"ARID1A","a":1465,"b":1485,"v":"Loss"},
{"gene":"PIK3CA","a":52,"b":57,"v":"Gain"},{"gene":"PIK3CA","a":68,"b":72,"v":"Loss"},{"gene":"PIK3CA","a":78,"b":84,"v":"Gain"},{"gene":"PIK3CA","a":98,"b":104,"v":"Gain"},{"gene":"PIK3CA","a":112,"b":120,"v":"Gain"},{"gene":"PIK3CA","a":125,"b":128,"v":"Gain"},{"gene":"PIK3CA","a":138,"b":150,"v":"Gain"},{"gene":"PIK3CA","a":175,"b":185,"v":"Loss"},{"gene":"PIK3CA","a":203,"b":210,"v":"Loss"},{"gene":"PIK3CA","a":228,"b":232,"v":"Gain"},{"gene":"PIK3CA","a":245,"b":250,"v":"Gain"},{"gene":"PIK3CA","a":250,"b":258,"v":"Loss"},{"gene":"PIK3CA","a":258,"b":265,"v":"Gain"},{"gene":"PIK3CA","a":268,"b":272,"v":"Gain"},{"gene":"PIK3CA","a":308,"b":312,"v":"Loss"},{"gene":"PIK3CA","a":320,"b":324,"v":"Loss"},{"gene":"PIK3CA","a":335,"b":340,"v":"Gain"},{"gene":"PIK3CA","a":355,"b":360,"v":"Loss"},{"gene":"PIK3CA","a":368,"b":385,"v":"Loss"},{"gene":"PIK3CA","a":452,"b":458,"v":"Gain"},{"gene":"PIK3CA","a":472,"b":482,"v":"Gain"},{"gene":"PIK3CA","a":490,"b":495,"v":"Gain"},{"gene":"PIK3CA","a":505,"b":512,"v":"Loss"},{"gene":"PIK3CA","a":520,"b":528,"v":"Loss"},{"gene":"PIK3CA","a":533,"b":545,"v":"Loss"},{"gene":"PIK3CA","a":545,"b":550,"v":"Gain"},{"gene":"PIK3CA","a":550,"b":556,"v":"Loss"},{"gene":"PIK3CA","a":575,"b":580,"v":"Gain"},{"gene":"PIK3CA","a":615,"b":620,"v":"Loss"},{"gene":"PIK3CA","a":655,"b":660,"v":"Loss"},{"gene":"PIK3CA","a":665,"b":672,"v":"Loss"},{"gene":"PIK3CA","a":680,"b":688,"v":"Gain"},{"gene":"PIK3CA","a":715,"b":720,"v":"Loss"},{"gene":"PIK3CA","a":722,"b":729,"v":"Gain"},{"gene":"PIK3CA","a":741,"b":745,"v":"Gain"},{"gene":"PIK3CA","a":755,"b":760,"v":"Loss"},{"gene":"PIK3CA","a":770,"b":775,"v":"Gain"},{"gene":"PIK3CA","a":785,"b":790,"v":"Loss"},{"gene":"PIK3CA","a":800,"b":805,"v":"Gain"},{"gene":"PIK3CA","a":815,"b":822,"v":"Gain"},{"gene":"PIK3CA","a":838,"b":846,"v":"Gain"},{"gene":"PIK3CA","a":850,"b":856,"v":"Gain"},{"gene":"PIK3CA","a":875,"b":890,"v":"Loss"},{"gene":"PIK3CA","a":895,"b":900,"v":"Gain"},{"gene":"PIK3CA","a":905,"b":912,"v":"Loss"},{"gene":"PIK3CA","a":925,"b":930,"v":"Gain"},{"gene":"PIK3CA","a":938,"b":945,"v":"Loss"},{"gene":"PIK3CA","a":1017,"b":1028,"v":"Gain"},{"gene":"PIK3CA","a":1055,"b":1060,"v":"Gain"},{"gene":"PIK3CA","a":1090,"b":1095,"v":"Gain"},{"gene":"PIK3CA","a":1118,"b":1123,"v":"Gain"},{"gene":"PIK3CA","a":1132,"b":1136,"v":"Loss"},{"gene":"PIK3CA","a":1142,"b":1146,"v":"Loss"},{"gene":"PIK3CA","a":1176,"b":1188,"v":"Loss"},{"gene":"PIK3CA","a":1228,"b":1232,"v":"Loss"},{"gene":"PIK3CA","a":1240,"b":1244,"v":"Gain"},{"gene":"PIK3CA","a":1258,"b":1262,"v":"Gain"},{"gene":"PIK3CA","a":1285,"b":1292,"v":"Loss"},{"gene":"PIK3CA","a":1295,"b":1300,"v":"Gain"},{"gene":"PIK3CA","a":1312,"b":1315,"v":"Loss"},{"gene":"PIK3CA","a":1342,"b":1346,"v":"Loss"},{"gene":"PIK3CA","a":1360,"b":1363,"v":"Gain"},{"gene":"PIK3CA","a":1395,"b":1400,"v":"Loss"},{"gene":"PIK3CA","a":1420,"b":1425,"v":"Loss"},{"gene":"PIK3CA","a":1437,"b":1442,"v":"Gain"},{"gene":"PIK3CA","a":1480,"b":1488,"v":"Loss"},
{"gene":"CDKN2A","a":52,"b":62,"v":"Loss"},{"gene":"CDKN2A","a":70,"b":75,"v":"Loss"},{"gene":"CDKN2A","a":85,"b":90,"v":"Loss"},{"gene":"CDKN2A","a":100,"b":104,"v":"Gain"},{"gene":"CDKN2A","a":110,"b":137,"v":"Loss"},{"gene":"CDKN2A","a":175,"b":187,"v":"Loss"},{"gene":"CDKN2A","a":195,"b":200,"v":"Loss"},{"gene":"CDKN2A","a":228,"b":232,"v":"Gain"},{"gene":"CDKN2A","a":236,"b":242,"v":"Loss"},{"gene":"CDKN2A","a":250,"b":255,"v":"Loss"},{"gene":"CDKN2A","a":265,"b":270,"v":"Loss"},{"gene":"CDKN2A","a":280,"b":290,"v":"Loss"},{"gene":"CDKN2A","a":320,"b":335,"v":"Loss"},{"gene":"CDKN2A","a":350,"b":388,"v":"Loss"},{"gene":"CDKN2A","a":393,"b":398,"v":"Loss"},{"gene":"CDKN2A","a":408,"b":415,"v":"Loss"},{"gene":"CDKN2A","a":435,"b":441,"v":"Loss"},{"gene":"CDKN2A","a":452,"b":462,"v":"Gain"},{"gene":"CDKN2A","a":490,"b":494,"v":"Gain"},{"gene":"CDKN2A","a":496,"b":520,"v":"Loss"},{"gene":"CDKN2A","a":525,"b":530,"v":"Gain"},{"gene":"CDKN2A","a":535,"b":548,"v":"Loss"},{"gene":"CDKN2A","a":555,"b":570,"v":"Loss"},{"gene":"CDKN2A","a":578,"b":620,"v":"Loss"},{"gene":"CDKN2A","a":628,"b":640,"v":"Loss"},{"gene":"CDKN2A","a":650,"b":660,"v":"Loss"},{"gene":"CDKN2A","a":668,"b":680,"v":"Loss"},{"gene":"CDKN2A","a":688,"b":700,"v":"Loss"},{"gene":"CDKN2A","a":705,"b":728,"v":"Loss"},{"gene":"CDKN2A","a":741,"b":750,"v":"Loss"},{"gene":"CDKN2A","a":760,"b":765,"v":"Loss"},{"gene":"CDKN2A","a":773,"b":780,"v":"Gain"},{"gene":"CDKN2A","a":790,"b":800,"v":"Loss"},{"gene":"CDKN2A","a":810,"b":822,"v":"Loss"},{"gene":"CDKN2A","a":830,"b":850,"v":"Loss"},{"gene":"CDKN2A","a":855,"b":880,"v":"Loss"},{"gene":"CDKN2A","a":888,"b":900,"v":"Loss"},{"gene":"CDKN2A","a":903,"b":910,"v":"Gain"},{"gene":"CDKN2A","a":915,"b":925,"v":"Loss"},{"gene":"CDKN2A","a":932,"b":945,"v":"Loss"},{"gene":"CDKN2A","a":993,"b":1005,"v":"Loss"},{"gene":"CDKN2A","a":1005,"b":1015,"v":"Gain"},{"gene":"CDKN2A","a":1015,"b":1040,"v":"Loss"},{"gene":"CDKN2A","a":1093,"b":1100,"v":"Loss"},{"gene":"CDKN2A","a":1108,"b":1114,"v":"Loss"},{"gene":"CDKN2A","a":1124,"b":1130,"v":"Loss"},{"gene":"CDKN2A","a":1140,"b":1148,"v":"Loss"},{"gene":"CDKN2A","a":1165,"b":1180,"v":"Loss"},{"gene":"CDKN2A","a":1200,"b":1204,"v":"Loss"},{"gene":"CDKN2A","a":1223,"b":1260,"v":"Loss"},{"gene":"CDKN2A","a":1285,"b":1308,"v":"Loss"},{"gene":"CDKN2A","a":1320,"b":1326,"v":"Loss"},{"gene":"CDKN2A","a":1352,"b":1362,"v":"Loss"},{"gene":"CDKN2A","a":1375,"b":1382,"v":"Loss"},{"gene":"CDKN2A","a":1395,"b":1402,"v":"Loss"},{"gene":"CDKN2A","a":1405,"b":1430,"v":"Gain"},{"gene":"CDKN2A","a":1468,"b":1473,"v":"Loss"},{"gene":"CDKN2A","a":1480,"b":1488,"v":"Loss"},
{"gene":"PTEN","a":52,"b":62,"v":"Loss"},{"gene":"PTEN","a":72,"b":85,"v":"Loss"},{"gene":"PTEN","a":95,"b":100,"v":"Loss"},{"gene":"PTEN","a":112,"b":118,"v":"Loss"},{"gene":"PTEN","a":130,"b":135,"v":"Gain"},{"gene":"PTEN","a":148,"b":165,"v":"Gain"},{"gene":"PTEN","a":180,"b":186,"v":"Loss"},{"gene":"PTEN","a":195,"b":200,"v":"Gain"},{"gene":"PTEN","a":228,"b":232,"v":"Loss"},{"gene":"PTEN","a":240,"b":245,"v":"Loss"},{"gene":"PTEN","a":265,"b":270,"v":"Loss"},{"gene":"PTEN","a":300,"b":312,"v":"Loss"},{"gene":"PTEN","a":322,"b":326,"v":"Loss"},{"gene":"PTEN","a":350,"b":355,"v":"Gain"},{"gene":"PTEN","a":380,"b":385,"v":"Loss"},{"gene":"PTEN","a":395,"b":402,"v":"Loss"},{"gene":"PTEN","a":420,"b":425,"v":"Loss"},{"gene":"PTEN","a":432,"b":440,"v":"Loss"},{"gene":"PTEN","a":455,"b":465,"v":"Loss"},{"gene":"PTEN","a":472,"b":490,"v":"Loss"},{"gene":"PTEN","a":505,"b":510,"v":"Loss"},{"gene":"PTEN","a":520,"b":528,"v":"Gain"},{"gene":"PTEN","a":530,"b":545,"v":"Loss"},{"gene":"PTEN","a":550,"b":560,"v":"Gain"},{"gene":"PTEN","a":565,"b":575,"v":"Loss"},{"gene":"PTEN","a":580,"b":590,"v":"Gain"},{"gene":"PTEN","a":595,"b":605,"v":"Loss"},{"gene":"PTEN","a":615,"b":625,"v":"Loss"},{"gene":"PTEN","a":635,"b":645,"v":"Loss"},{"gene":"PTEN","a":655,"b":665,"v":"Loss"},{"gene":"PTEN","a":675,"b":688,"v":"Loss"},{"gene":"PTEN","a":695,"b":705,"v":"Loss"},{"gene":"PTEN","a":715,"b":725,"v":"Loss"},{"gene":"PTEN","a":745,"b":750,"v":"Loss"},{"gene":"PTEN","a":752,"b":770,"v":"Gain"},{"gene":"PTEN","a":772,"b":780,"v":"Loss"},{"gene":"PTEN","a":790,"b":795,"v":"Loss"},{"gene":"PTEN","a":805,"b":822,"v":"Loss"},{"gene":"PTEN","a":835,"b":845,"v":"Gain"},{"gene":"PTEN","a":850,"b":856,"v":"Loss"},{"gene":"PTEN","a":868,"b":875,"v":"Gain"},{"gene":"PTEN","a":895,"b":903,"v":"Gain"},{"gene":"PTEN","a":908,"b":915,"v":"Gain"},{"gene":"PTEN","a":920,"b":935,"v":"Loss"},{"gene":"PTEN","a":938,"b":945,"v":"Loss"},{"gene":"PTEN","a":995,"b":1030,"v":"Loss"},{"gene":"PTEN","a":1040,"b":1050,"v":"Loss"},{"gene":"PTEN","a":1093,"b":1098,"v":"Loss"},{"gene":"PTEN","a":1118,"b":1130,"v":"Loss"},{"gene":"PTEN","a":1145,"b":1155,"v":"Loss"},{"gene":"PTEN","a":1168,"b":1185,"v":"Loss"},{"gene":"PTEN","a":1195,"b":1200,"v":"Loss"},{"gene":"PTEN","a":1215,"b":1230,"v":"Loss"},{"gene":"PTEN","a":1248,"b":1252,"v":"Loss"},{"gene":"PTEN","a":1270,"b":1280,"v":"Loss"},{"gene":"PTEN","a":1290,"b":1295,"v":"Loss"},{"gene":"PTEN","a":1312,"b":1318,"v":"Loss"},{"gene":"PTEN","a":1330,"b":1335,"v":"Gain"},{"gene":"PTEN","a":1355,"b":1360,"v":"Loss"},{"gene":"PTEN","a":1385,"b":1400,"v":"Loss"},{"gene":"PTEN","a":1415,"b":1430,"v":"Gain"},{"gene":"PTEN","a":1460,"b":1465,"v":"Loss"},{"gene":"PTEN","a":1480,"b":1490,"v":"Loss"},
{"gene":"KRAS","a":60,"b":70,"v":"Loss"},{"gene":"KRAS","a":70,"b":78,"v":"Gain"},{"gene":"KRAS","a":82,"b":86,"v":"Loss"},{"gene":"KRAS","a":98,"b":104,"v":"Gain"},{"gene":"KRAS","a":125,"b":130,"v":"Loss"},{"gene":"KRAS","a":165,"b":175,"v":"Loss"},{"gene":"KRAS","a":175,"b":185,"v":"Gain"},{"gene":"KRAS","a":205,"b":212,"v":"Loss"},{"gene":"KRAS","a":232,"b":236,"v":"Loss"},{"gene":"KRAS","a":320,"b":328,"v":"Gain"},{"gene":"KRAS","a":332,"b":345,"v":"Loss"},{"gene":"KRAS","a":350,"b":358,"v":"Gain"},{"gene":"KRAS","a":362,"b":368,"v":"Loss"},{"gene":"KRAS","a":432,"b":438,"v":"Loss"},{"gene":"KRAS","a":452,"b":456,"v":"Gain"},{"gene":"KRAS","a":468,"b":472,"v":"Gain"},{"gene":"KRAS","a":490,"b":500,"v":"Loss"},{"gene":"KRAS","a":505,"b":512,"v":"Gain"},{"gene":"KRAS","a":525,"b":535,"v":"Loss"},{"gene":"KRAS","a":545,"b":555,"v":"Gain"},{"gene":"KRAS","a":558,"b":565,"v":"Loss"},{"gene":"KRAS","a":575,"b":585,"v":"Loss"},{"gene":"KRAS","a":590,"b":598,"v":"Gain"},{"gene":"KRAS","a":628,"b":638,"v":"Gain"},{"gene":"KRAS","a":660,"b":668,"v":"Loss"},{"gene":"KRAS","a":672,"b":680,"v":"Gain"},{"gene":"KRAS","a":685,"b":695,"v":"Loss"},{"gene":"KRAS","a":700,"b":712,"v":"Gain"},{"gene":"KRAS","a":715,"b":725,"v":"Loss"},{"gene":"KRAS","a":741,"b":746,"v":"Gain"},{"gene":"KRAS","a":755,"b":770,"v":"Loss"},{"gene":"KRAS","a":775,"b":782,"v":"Gain"},{"gene":"KRAS","a":795,"b":805,"v":"Loss"},{"gene":"KRAS","a":820,"b":830,"v":"Loss"},{"gene":"KRAS","a":835,"b":850,"v":"Gain"},{"gene":"KRAS","a":865,"b":875,"v":"Loss"},{"gene":"KRAS","a":880,"b":892,"v":"Gain"},{"gene":"KRAS","a":905,"b":915,"v":"Loss"},{"gene":"KRAS","a":920,"b":930,"v":"Gain"},{"gene":"KRAS","a":938,"b":945,"v":"Gain"},{"gene":"KRAS","a":995,"b":1002,"v":"Loss"},{"gene":"KRAS","a":1020,"b":1035,"v":"Gain"},{"gene":"KRAS","a":1040,"b":1048,"v":"Loss"},{"gene":"KRAS","a":1068,"b":1075,"v":"Loss"},{"gene":"KRAS","a":1100,"b":1108,"v":"Gain"},{"gene":"KRAS","a":1125,"b":1140,"v":"Gain"},{"gene":"KRAS","a":1175,"b":1190,"v":"Gain"},{"gene":"KRAS","a":1195,"b":1202,"v":"Loss"},{"gene":"KRAS","a":1205,"b":1215,"v":"Gain"},{"gene":"KRAS","a":1228,"b":1240,"v":"Loss"},{"gene":"KRAS","a":1255,"b":1265,"v":"Gain"},{"gene":"KRAS","a":1285,"b":1295,"v":"Loss"},{"gene":"KRAS","a":1335,"b":1342,"v":"Loss"},{"gene":"KRAS","a":1385,"b":1392,"v":"Loss"},{"gene":"KRAS","a":1400,"b":1410,"v":"Loss"},{"gene":"KRAS","a":1430,"b":1438,"v":"Loss"},{"gene":"KRAS","a":1470,"b":1488,"v":"Loss"},
{"gene":"MYC","a":50,"b":54,"v":"Loss"},{"gene":"MYC","a":54,"b":60,"v":"Gain"},{"gene":"MYC","a":60,"b":66,"v":"Loss"},{"gene":"MYC","a":72,"b":78,"v":"Gain"},{"gene":"MYC","a":80,"b":98,"v":"Gain"},{"gene":"MYC","a":110,"b":128,"v":"Gain"},{"gene":"MYC","a":130,"b":150,"v":"Gain"},{"gene":"MYC","a":154,"b":158,"v":"Loss"},{"gene":"MYC","a":165,"b":212,"v":"Gain"},{"gene":"MYC","a":218,"b":228,"v":"Gain"},{"gene":"MYC","a":228,"b":232,"v":"Loss"},{"gene":"MYC","a":235,"b":250,"v":"Gain"},{"gene":"MYC","a":255,"b":258,"v":"Loss"},{"gene":"MYC","a":262,"b":270,"v":"Gain"},{"gene":"MYC","a":285,"b":295,"v":"Gain"},{"gene":"MYC","a":310,"b":345,"v":"Gain"},{"gene":"MYC","a":345,"b":350,"v":"Loss"},{"gene":"MYC","a":352,"b":388,"v":"Gain"},{"gene":"MYC","a":395,"b":400,"v":"Loss"},{"gene":"MYC","a":402,"b":412,"v":"Gain"},{"gene":"MYC","a":418,"b":424,"v":"Loss"},{"gene":"MYC","a":425,"b":441,"v":"Gain"},{"gene":"MYC","a":452,"b":456,"v":"Loss"},{"gene":"MYC","a":458,"b":470,"v":"Gain"},{"gene":"MYC","a":470,"b":474,"v":"Loss"},{"gene":"MYC","a":480,"b":500,"v":"Gain"},{"gene":"MYC","a":505,"b":510,"v":"Loss"},{"gene":"MYC","a":512,"b":530,"v":"Gain"},{"gene":"MYC","a":535,"b":560,"v":"Gain"},{"gene":"MYC","a":562,"b":566,"v":"Loss"},{"gene":"MYC","a":570,"b":600,"v":"Gain"},{"gene":"MYC","a":605,"b":630,"v":"Gain"},{"gene":"MYC","a":632,"b":636,"v":"Loss"},{"gene":"MYC","a":642,"b":655,"v":"Gain"},{"gene":"MYC","a":660,"b":668,"v":"Gain"},{"gene":"MYC","a":672,"b":680,"v":"Gain"},{"gene":"MYC","a":690,"b":712,"v":"Gain"},{"gene":"MYC","a":716,"b":720,"v":"Loss"},{"gene":"MYC","a":722,"b":729,"v":"Gain"},{"gene":"MYC","a":741,"b":770,"v":"Gain"},{"gene":"MYC","a":775,"b":800,"v":"Loss"},{"gene":"MYC","a":805,"b":830,"v":"Gain"},{"gene":"MYC","a":835,"b":840,"v":"Loss"},{"gene":"MYC","a":845,"b":880,"v":"Gain"},{"gene":"MYC","a":885,"b":915,"v":"Gain"},{"gene":"MYC","a":920,"b":945,"v":"Gain"},{"gene":"MYC","a":957,"b":1040,"v":"Gain"},{"gene":"MYC","a":1042,"b":1046,"v":"Loss"},{"gene":"MYC","a":1050,"b":1115,"v":"Gain"},{"gene":"MYC","a":1120,"b":1125,"v":"Loss"},{"gene":"MYC","a":1125,"b":1175,"v":"Gain"},{"gene":"MYC","a":1180,"b":1185,"v":"Loss"},{"gene":"MYC","a":1190,"b":1250,"v":"Gain"},{"gene":"MYC","a":1255,"b":1260,"v":"Loss"},{"gene":"MYC","a":1260,"b":1320,"v":"Gain"},{"gene":"MYC","a":1325,"b":1335,"v":"Loss"},{"gene":"MYC","a":1340,"b":1390,"v":"Gain"},{"gene":"MYC","a":1395,"b":1430,"v":"Gain"},{"gene":"MYC","a":1435,"b":1440,"v":"Loss"},{"gene":"MYC","a":1445,"b":1470,"v":"Gain"},{"gene":"MYC","a":1480,"b":1485,"v":"Loss"}],
"minor":[{"v":0.125},{"v":0.375},{"v":0.625},{"v":0.875}]
},
"concat":[
{"width":200.5,"height":253.6,
"layer":[
{"data":{"name":"subtypes"},"mark":{"type":"rect"},"encoding":{
"x":{"field":"a","type":"quantitative","scale":{"domain":[50,1492],"range":[-35.33,445.33],"nice":false,"zero":false},"axis":{"orient":"bottom","labels":false,"ticks":false,"domain":false,"grid":false,"title":"(a)","titleFontWeight":"normal","titleFontSize":11,"titleColor":"#3a3a3a","titleX":275,"titleY":-23,"titleAnchor":"middle"}},
"x2":{"field":"b"},
"y":{"field":"track","type":"nominal","scale":{"domain":["Subtype"],"range":[0,12.5]},"axis":{"orient":"right","offset":254,"ticks":false,"domain":false,"labelPadding":0.5,"title":null,"labelAlign":"left"}},
"color":{"field":"v","type":"nominal","scale":{"domain":["Cholesterol","Glycolysis","Mixed","Quiescent"],"range":["#e2190b","#007a9e","#006848","#041a4b"]},"legend":{"title":"Subtype","legendX":500,"legendY":5,"symbolSize":81,"symbolStrokeWidth":0,"labelFontSize":9.6,"clipHeight":8.5,"rowPadding":0,"titlePadding":1,"labelOffset":2}}}},
{"data":{"name":"snv"},"mark":{"type":"rect"},"encoding":{
"x":{"field":"a","type":"quantitative"},"x2":{"field":"b"},
"y":{"field":"gene","type":"nominal","sort":null,"axis":null,"scale":{"domain":["TP53","CTNNB1","PCLO","RYR2","CSMD3","ARID1A","PIK3CA","CDKN2A","PTEN","KRAS","MYC"],"range":[15,217],"paddingInner":0.4956,"paddingOuter":0}},
"color":{"field":"v","type":"nominal","scale":{"domain":["Frame_Shift_Del","Frame_Shift_Ins","In_Frame_Del","In_Frame_Ins","Missense_Mutation","Nonsense_Mutation","Splice_Site","Other","Wildtype","NA"],"range":["#42a0c8","#0c4a92","#4fa24a","#0b6b1e","#ee4b4b","#e30d0d","#f57527","#ea4a0e","#a3a5a8","#ffffff"]},"legend":{"title":"SNV/InDel","legendX":500,"legendY":55,"symbolSize":81,"symbolStrokeWidth":0,"labelFontSize":9.6,"clipHeight":8.5,"rowPadding":0,"titlePadding":1,"labelOffset":2}}}},
{"data":{"name":"cnv"},"mark":{"type":"rect"},"encoding":{
"x":{"field":"a","type":"quantitative"},"x2":{"field":"b"},
"y":{"field":"gene","type":"nominal","sort":null,"axis":null,"scale":{"domain":["TP53","CTNNB1","PCLO","RYR2","CSMD3","ARID1A","PIK3CA","CDKN2A","PTEN","KRAS","MYC"],"range":[26.5,222.8],"paddingInner":0.792,"paddingOuter":0}},
"color":{"field":"v","type":"nominal","scale":{"domain":["Gain","Loss","Neutral","NA"],"range":["#e00a0a","#0b3f8c","#a3a5a8","#ffffff"]},"legend":{"title":"CNV","legendX":500,"legendY":169,"symbolSize":81,"symbolStrokeWidth":0,"labelFontSize":9.6,"clipHeight":8.5,"rowPadding":0,"titlePadding":1,"labelOffset":2}}}},
{"data":{"name":"genes"},"mark":{"type":"tick","size":15.5,"thickness":0.8,"color":"#444444"},"encoding":{
"x":{"datum":1505,"type":"quantitative"},
"y":{"field":"gene","type":"nominal","sort":null,"scale":{"domain":["TP53","CTNNB1","PCLO","RYR2","CSMD3","ARID1A","PIK3CA","CDKN2A","PTEN","KRAS","MYC"],"range":[15.5,223.3],"paddingInner":0.194,"paddingOuter":0},"axis":{"orient":"right","offset":254,"ticks":false,"domain":false,"labelPadding":0.5,"title":null,"labelAlign":"left"}}}}
],
"resolve":{"scale":{"y":"independent","color":"independent"},"axis":{"y":"independent"},"legend":{"color":"independent"}}},
{"width":200.5,"height":5,"data":{"values":[]},"mark":"rect","encoding":{}},
{"width":200.5,"height":5,"data":{"values":[]},"mark":"rect","encoding":{}},
{"width":200.5,"height":62.4,"view":{"fill":"#dcdcdc"},"title":"−log10 (anova p value)",
"data":{"values":[{"row":"Quiescent","col":"Cholesterol","p":0.81,"t":"0.81"},{"row":"Quiescent","col":"Glycolysis","p":1.52,"t":"1.52(*)"},{"row":"Quiescent","col":"Mixed","p":2.61,"t":"2.61(*)"},{"row":"Quiescent","col":"Quiescent","p":0,"t":"0"},{"row":"Mixed","col":"Cholesterol","p":1.30,"t":"1.30"},{"row":"Mixed","col":"Glycolysis","p":0.44,"t":"0.44"},{"row":"Mixed","col":"Mixed","p":0,"t":"0"},{"row":"Mixed","col":"Quiescent","p":2.61,"t":"2.61(*)"},{"row":"Glycolysis","col":"Cholesterol","p":0.26,"t":"0.26"},{"row":"Glycolysis","col":"Glycolysis","p":0,"t":"0"},{"row":"Glycolysis","col":"Mixed","p":0.44,"t":"0.44"},{"row":"Glycolysis","col":"Quiescent","p":1.52,"t":"1.52(*)"},{"row":"Cholesterol","col":"Cholesterol","p":0,"t":"0"},{"row":"Cholesterol","col":"Glycolysis","p":0.26,"t":"0.26"},{"row":"Cholesterol","col":"Mixed","p":1.30,"t":"1.30"},{"row":"Cholesterol","col":"Quiescent","p":0.81,"t":"0.81"}]},
"encoding":{"x":{"field":"col","type":"nominal","sort":["Cholesterol","Glycolysis","Mixed","Quiescent"],"scale":{"paddingInner":0,"paddingOuter":0.105},"axis":{"labels":false}},"y":{"field":"row","type":"nominal","sort":["Quiescent","Mixed","Glycolysis","Cholesterol"],"scale":{"paddingInner":0,"paddingOuter":0.144},"axis":{"labelPadding":3}}},
"layer":[{"mark":{"type":"rect","stroke":"#ffffff","strokeWidth":0.7},"encoding":{"color":{"field":"p","type":"quantitative","scale":{"domain":[0,1.305,2.61],"range":["#ffffff","#4f81b5","#0b3b7c"],"interpolate":"rgb"},"legend":null}}},{"mark":{"type":"text","fontSize":10,"color":"#1a1a1a"},"encoding":{"text":{"field":"t"}}}]},
{"width":200.5,"height":62.4,"view":{"fill":"#dcdcdc"},"title":"−log10 (anova p value)",
"data":{"values":[{"row":"Quiescent","col":"Cholesterol","p":0.74,"t":"0.74"},{"row":"Quiescent","col":"Glycolysis","p":1.45,"t":"1.45(*)"},{"row":"Quiescent","col":"Mixed","p":3.23,"t":"3.23(*)"},{"row":"Quiescent","col":"Quiescent","p":0,"t":"0"},{"row":"Mixed","col":"Cholesterol","p":2.11,"t":"2.11(*)"},{"row":"Mixed","col":"Glycolysis","p":0.71,"t":"0.71"},{"row":"Mixed","col":"Mixed","p":0,"t":"0"},{"row":"Mixed","col":"Quiescent","p":3.23,"t":"3.23(*)"},{"row":"Glycolysis","col":"Cholesterol","p":0.47,"t":"0.47"},{"row":"Glycolysis","col":"Glycolysis","p":0,"t":"0"},{"row":"Glycolysis","col":"Mixed","p":0.71,"t":"0.71"},{"row":"Glycolysis","col":"Quiescent","p":1.45,"t":"1.45(*)"},{"row":"Cholesterol","col":"Cholesterol","p":0,"t":"0"},{"row":"Cholesterol","col":"Glycolysis","p":0.47,"t":"0.47"},{"row":"Cholesterol","col":"Mixed","p":2.11,"t":"2.11(*)"},{"row":"Cholesterol","col":"Quiescent","p":0.74,"t":"0.74"}]},
"encoding":{"x":{"field":"col","type":"nominal","sort":["Cholesterol","Glycolysis","Mixed","Quiescent"],"scale":{"paddingInner":0,"paddingOuter":0.105},"axis":{"labels":false}},"y":{"field":"row","type":"nominal","sort":["Quiescent","Mixed","Glycolysis","Cholesterol"],"scale":{"paddingInner":0,"paddingOuter":0.144},"axis":{"labels":false}}},
"layer":[{"mark":{"type":"rect","stroke":"#ffffff","strokeWidth":0.7},"encoding":{"color":{"field":"p","type":"quantitative","scale":{"domain":[0,1.615,3.23],"range":["#ffffff","#4f81b5","#0b3b7c"],"interpolate":"rgb"},"legend":null}}},{"mark":{"type":"text","fontSize":10,"color":"#1a1a1a"},"encoding":{"text":{"field":"t"}}}]},
{"width":200.5,"height":62.4,"view":{"fill":"#dcdcdc"},"title":"−log10 (anova p value)",
"data":{"values":[{"row":"Quiescent","col":"Cholesterol","p":0.21,"t":"0.21"},{"row":"Quiescent","col":"Glycolysis","p":4.61,"t":"4.61(*)"},{"row":"Quiescent","col":"Mixed","p":2.63,"t":"2.63(*)"},{"row":"Quiescent","col":"Quiescent","p":0,"t":"0"},{"row":"Mixed","col":"Cholesterol","p":2.46,"t":"2.46(*)"},{"row":"Mixed","col":"Glycolysis","p":2.29,"t":"2.29(*)"},{"row":"Mixed","col":"Mixed","p":0,"t":"0"},{"row":"Mixed","col":"Quiescent","p":2.63,"t":"2.63(*)"},{"row":"Glycolysis","col":"Cholesterol","p":5.05,"t":"5.05(*)"},{"row":"Glycolysis","col":"Glycolysis","p":0,"t":"0"},{"row":"Glycolysis","col":"Mixed","p":2.29,"t":"2.29(*)"},{"row":"Glycolysis","col":"Quiescent","p":4.61,"t":"4.61(*)"},{"row":"Cholesterol","col":"Cholesterol","p":0,"t":"0"},{"row":"Cholesterol","col":"Glycolysis","p":5.05,"t":"5.05(*)"},{"row":"Cholesterol","col":"Mixed","p":2.46,"t":"2.46(*)"},{"row":"Cholesterol","col":"Quiescent","p":0.21,"t":"0.21"}]},
"encoding":{"x":{"field":"col","type":"nominal","sort":["Cholesterol","Glycolysis","Mixed","Quiescent"],"scale":{"paddingInner":0,"paddingOuter":0.105},"axis":{"labels":false}},"y":{"field":"row","type":"nominal","sort":["Quiescent","Mixed","Glycolysis","Cholesterol"],"scale":{"paddingInner":0,"paddingOuter":0.144},"axis":{"labels":false}}},
"layer":[{"mark":{"type":"rect","stroke":"#ffffff","strokeWidth":0.7},"encoding":{"color":{"field":"p","type":"quantitative","scale":{"domain":[0,2.525,5.05],"range":["#ffffff","#4f81b5","#0b3b7c"],"interpolate":"rgb"},"legend":null}}},{"mark":{"type":"text","fontSize":10,"color":"#1a1a1a"},"encoding":{"text":{"field":"t"}}}]},
{"width":200.5,"height":114.5,"view":{"fill":"#dcdcdc"},
"layer":[
{"data":{"name":"minor"},"mark":{"type":"rule","color":"#ffffff","strokeWidth":0.7},"encoding":{"y":{"field":"v","type":"quantitative","scale":{"domain":[-0.05,1.05],"nice":false},"axis":null}}},
{"data":{"values":[{"s":"Cholesterol","c":"Gain","f":0.02},{"s":"Cholesterol","c":"Loss","f":0.645},{"s":"Cholesterol","c":"Neutral","f":0.335},{"s":"Glycolysis","c":"Gain","f":0.025},{"s":"Glycolysis","c":"Loss","f":0.715},{"s":"Glycolysis","c":"Neutral","f":0.26},{"s":"Mixed","c":"Gain","f":0.055},{"s":"Mixed","c":"Loss","f":0.78},{"s":"Mixed","c":"Neutral","f":0.165},{"s":"Quiescent","c":"Gain","f":0.04},{"s":"Quiescent","c":"Loss","f":0.53},{"s":"Quiescent","c":"Neutral","f":0.43}]},
"mark":{"type":"bar","stroke":"#333333","strokeWidth":1},
"encoding":{"x":{"field":"s","type":"nominal","sort":["Cholesterol","Glycolysis","Mixed","Quiescent"],"scale":{"paddingInner":0.5,"paddingOuter":0.355},"axis":{"grid":true,"gridColor":"#ffffff","gridWidth":1,"labelPadding":3}},
"y":{"field":"f","type":"quantitative","scale":{"domain":[-0.05,1.05],"nice":false},"axis":{"grid":true,"gridColor":"#ffffff","gridWidth":1,"values":[0,0.25,0.5,0.75,1],"format":".2f","labelPadding":3}},
"color":{"field":"c","type":"nominal","scale":{"domain":["Gain","Loss","Neutral"],"range":["#e00a0a","#0b3f8c","#a3a5a8"]},"legend":{"title":"TP53 CNV","legendX":2.3,"legendY":140,"symbolSize":72,"symbolStrokeColor":"#333333","symbolStrokeWidth":1,"clipHeight":9,"rowPadding":4.5,"titlePadding":6.5,"labelOffset":7}}}},
{"data":{"values":[{"x1":1.25,"x2":1.75,"y1":0.335,"y2":0.26},{"x1":2.25,"x2":2.75,"y1":0.26,"y2":0.165},{"x1":3.25,"x2":3.75,"y1":0.165,"y2":0.43},{"x1":1.25,"x2":1.75,"y1":0.98,"y2":0.975},{"x1":2.25,"x2":2.75,"y1":0.975,"y2":0.945},{"x1":3.25,"x2":3.75,"y1":0.945,"y2":0.96},{"x1":1.25,"x2":1.75,"y1":1,"y2":1,"top":true},{"x1":2.25,"x2":2.75,"y1":1,"y2":1,"top":true},{"x1":3.25,"x2":3.75,"y1":1,"y2":1,"top":true}]},
"mark":{"type":"rule","strokeWidth":0.9},
"encoding":{"x":{"field":"x1","type":"quantitative","scale":{"domain":[0.395,4.605],"nice":false,"zero":false},"axis":null},"x2":{"field":"x2"},"y":{"field":"y1","type":"quantitative","axis":null},"y2":{"field":"y2"},"color":{"condition":{"test":"datum.top","value":"#8a8a8a"},"value":"#222222"}}}
],"resolve":{"scale":{"x":"independent"},"axis":{"x":"independent"}}},
{"width":200.5,"height":114.5,"view":{"fill":"#dcdcdc"},
"layer":[
{"data":{"name":"minor"},"mark":{"type":"rule","color":"#ffffff","strokeWidth":0.7},"encoding":{"y":{"field":"v","type":"quantitative","scale":{"domain":[-0.05,1.05],"nice":false},"axis":null}}},
{"data":{"values":[{"s":"Cholesterol","c":"Gain","f":0.56},{"s":"Cholesterol","c":"Loss","f":0.07},{"s":"Cholesterol","c":"Neutral","f":0.37},{"s":"Glycolysis","c":"Gain","f":0.655},{"s":"Glycolysis","c":"Loss","f":0.085},{"s":"Glycolysis","c":"Neutral","f":0.26},{"s":"Mixed","c":"Gain","f":0.78},{"s":"Mixed","c":"Loss","f":0.09},{"s":"Mixed","c":"Neutral","f":0.13},{"s":"Quiescent","c":"Gain","f":0.59},{"s":"Quiescent","c":"Loss","f":0.025},{"s":"Quiescent","c":"Neutral","f":0.385}]},
"mark":{"type":"bar","stroke":"#333333","strokeWidth":1},
"encoding":{"x":{"field":"s","type":"nominal","sort":["Cholesterol","Glycolysis","Mixed","Quiescent"],"scale":{"paddingInner":0.5,"paddingOuter":0.355},"axis":{"grid":true,"gridColor":"#ffffff","gridWidth":1,"labelPadding":3,"title":"(b)","titleFontSize":11,"titleFontWeight":"normal","titleColor":"#3a3a3a","titleX":72,"titleY":93,"titleAnchor":"middle"}},
"y":{"field":"f","type":"quantitative","scale":{"domain":[-0.05,1.05],"nice":false},"axis":{"grid":true,"gridColor":"#ffffff","gridWidth":1,"values":[0,0.25,0.5,0.75,1],"labels":false}},
"color":{"field":"c","type":"nominal","scale":{"domain":["Gain","Loss","Neutral"],"range":["#e00a0a","#0b3f8c","#a3a5a8"]},"legend":{"title":"MYC CNV","legendX":17,"legendY":142,"symbolSize":72,"symbolStrokeColor":"#333333","symbolStrokeWidth":1,"clipHeight":9,"rowPadding":4.5,"titlePadding":4.5,"labelOffset":7}}}},
{"data":{"values":[{"x1":1.25,"x2":1.75,"y1":0.37,"y2":0.26},{"x1":2.25,"x2":2.75,"y1":0.26,"y2":0.13},{"x1":3.25,"x2":3.75,"y1":0.13,"y2":0.385},{"x1":1.25,"x2":1.75,"y1":0.44,"y2":0.345},{"x1":2.25,"x2":2.75,"y1":0.345,"y2":0.22},{"x1":3.25,"x2":3.75,"y1":0.22,"y2":0.41},{"x1":1.25,"x2":1.75,"y1":1,"y2":1,"top":true},{"x1":2.25,"x2":2.75,"y1":1,"y2":1,"top":true},{"x1":3.25,"x2":3.75,"y1":1,"y2":1,"top":true}]},
"mark":{"type":"rule","strokeWidth":0.9},
"encoding":{"x":{"field":"x1","type":"quantitative","scale":{"domain":[0.395,4.605],"nice":false,"zero":false},"axis":null},"x2":{"field":"x2"},"y":{"field":"y1","type":"quantitative","axis":null},"y2":{"field":"y2"},"color":{"condition":{"test":"datum.top","value":"#8a8a8a"},"value":"#222222"}}}
],"resolve":{"scale":{"x":"independent"},"axis":{"x":"independent"}}},
{"width":200.5,"height":114.5,"view":{"fill":"#dcdcdc"},
"layer":[
{"data":{"name":"minor"},"mark":{"type":"rule","color":"#ffffff","strokeWidth":0.7},"encoding":{"y":{"field":"v","type":"quantitative","scale":{"domain":[-0.05,1.05],"nice":false},"axis":null}}},
{"data":{"values":[{"s":"Cholesterol","c":"Gain","f":0.13},{"s":"Cholesterol","c":"Loss","f":0.06},{"s":"Cholesterol","c":"Neutral","f":0.81},{"s":"Glycolysis","c":"Gain","f":0.04},{"s":"Glycolysis","c":"Loss","f":0.33},{"s":"Glycolysis","c":"Neutral","f":0.63},{"s":"Mixed","c":"Gain","f":0.22},{"s":"Mixed","c":"Loss","f":0.205},{"s":"Mixed","c":"Neutral","f":0.575},{"s":"Quiescent","c":"Gain","f":0.095},{"s":"Quiescent","c":"Loss","f":0.085},{"s":"Quiescent","c":"Neutral","f":0.82}]},
"mark":{"type":"bar","stroke":"#333333","strokeWidth":1},
"encoding":{"x":{"field":"s","type":"nominal","sort":["Cholesterol","Glycolysis","Mixed","Quiescent"],"scale":{"paddingInner":0.5,"paddingOuter":0.355},"axis":{"grid":true,"gridColor":"#ffffff","gridWidth":1,"labelPadding":3}},
"y":{"field":"f","type":"quantitative","scale":{"domain":[-0.05,1.05],"nice":false},"axis":{"grid":true,"gridColor":"#ffffff","gridWidth":1,"values":[0,0.25,0.5,0.75,1],"labels":false}},
"color":{"field":"c","type":"nominal","scale":{"domain":["Gain","Loss","Neutral"],"range":["#e00a0a","#0b3f8c","#a3a5a8"]},"legend":{"title":"CTNNB1 CNV","legendX":9.3,"legendY":140,"symbolSize":72,"symbolStrokeColor":"#333333","symbolStrokeWidth":1,"clipHeight":9,"rowPadding":4.5,"titlePadding":6.5,"labelOffset":7}}}},
{"data":{"values":[{"x1":1.25,"x2":1.75,"y1":0.81,"y2":0.63},{"x1":2.25,"x2":2.75,"y1":0.63,"y2":0.575},{"x1":3.25,"x2":3.75,"y1":0.575,"y2":0.82},{"x1":1.25,"x2":1.75,"y1":0.87,"y2":0.96},{"x1":2.25,"x2":2.75,"y1":0.96,"y2":0.78},{"x1":3.25,"x2":3.75,"y1":0.78,"y2":0.905},{"x1":1.25,"x2":1.75,"y1":1,"y2":1,"top":true},{"x1":2.25,"x2":2.75,"y1":1,"y2":1,"top":true},{"x1":3.25,"x2":3.75,"y1":1,"y2":1,"top":true}]},
"mark":{"type":"rule","strokeWidth":0.9},
"encoding":{"x":{"field":"x1","type":"quantitative","scale":{"domain":[0.395,4.605],"nice":false,"zero":false},"axis":null},"x2":{"field":"x2"},"y":{"field":"y1","type":"quantitative","axis":null},"y2":{"field":"y2"},"color":{"condition":{"test":"datum.top","value":"#8a8a8a"},"value":"#222222"}}}
],"resolve":{"scale":{"x":"independent"},"axis":{"x":"independent"}}}
]}
